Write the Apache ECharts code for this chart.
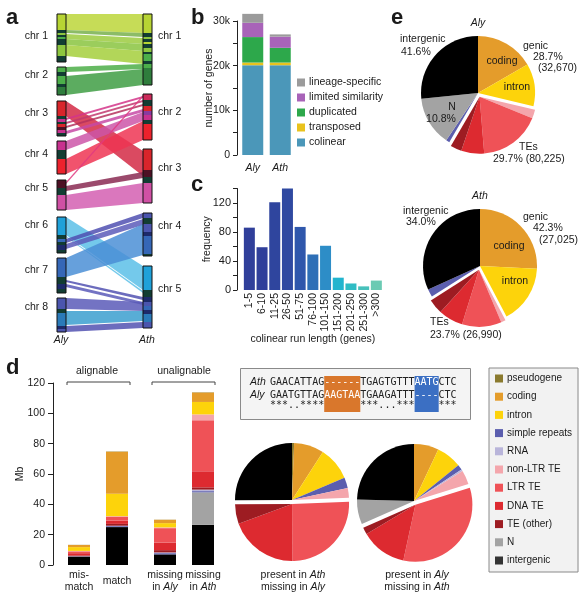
<!DOCTYPE html>
<html><head><meta charset="utf-8">
<script src="https://cdn.jsdelivr.net/npm/echarts@6/dist/echarts.min.js"></script>
<style>html,body{margin:0;padding:0;background:#fff}#c{width:584px;height:600px}</style>
</head><body><div id="c"></div>
<script>
// ---------------- Panel a : synteny ribbons (units along stacked genome)
const alyChromosomes = ['chr 1','chr 2','chr 3','chr 4','chr 5','chr 6','chr 7','chr 8'];
const alyChrRanges = [[0,48],[53,81],[87,122],[127,160],[166,196],[203,239],[244,279],[284,318]];
const alyLabelAt = [22,61,99,140,174,211,256,293];
const athChromosomes = ['chr 1','chr 2','chr 3','chr 4','chr 5'];
const athChrRanges = [[0,71],[80,126],[135,189],[199,242],[252,314]];
const athLabelAt = [22,98,154,212,275];
const bandPalette = {LG:'#b7d433',LG2:'#8dc63f',G:'#4caf4a',DG:'#2e7d3c',D:'#123d33',RD:'#d9252b',RD2:'#ec222c',
  MG:'#c8318f',CR:'#cc2a5a',MR:'#4d1024',PK:'#d050a4',PU:'#8a3aa0',CY:'#1fa1d9',BL:'#3567b7',NV:'#1d2a6a',BP:'#4b55ae',TB:'#2a7ab9'};
const alyBands = [[0,16,'LG'],[16,19,'D'],[19,21,'LG2'],[21,23,'D'],[23,25,'G'],[25,31,'D'],[31,42,'LG2'],[42,48,'D'],
  [53,58,'G'],[58,62,'D'],[62,70,'G'],[70,73,'D'],[73,81,'DG'],
  [87,102,'RD'],[102,105,'D'],[105,108,'MG'],[108,110,'D'],[110,113,'RD'],[113,116,'MR'],[116,119,'MG'],[119,122,'D'],
  [127,136,'MG'],[136,145,'D'],[145,160,'RD2'],
  [166,174,'MR'],[174,181,'D'],[181,196,'PK'],
  [203,221,'CY'],[221,225,'D'],[225,228,'BL'],[228,231,'D'],[231,236,'NV'],[236,239,'D'],
  [244,263,'BL'],[263,270,'D'],[270,275,'NV'],[275,279,'D'],
  [284,295,'BP'],[295,299,'D'],[299,312,'TB'],[312,315,'NV'],[315,318,'BP']];
const athBands = [[0,19,'LG'],[19,23,'D'],[23,25,'LG2'],[25,28,'D'],[28,30,'LG'],[30,34,'D'],[34,38,'LG2'],[38,40,'D'],[40,47,'G'],[47,50,'D'],[50,54,'G'],[54,71,'DG'],
  [80,86,'CR'],[86,92,'D'],[92,97,'RD'],[97,101,'PU'],[101,106,'MG'],[106,110,'D'],[110,126,'RD2'],
  [135,156,'RD'],[156,163,'MR'],[163,169,'D'],[169,189,'PK'],
  [199,204,'BP'],[204,210,'D'],[210,218,'BP'],[218,222,'NV'],[222,240,'BL'],[240,242,'D'],
  [252,276,'CY'],[276,283,'D'],[283,288,'NV'],[288,292,'BP'],[292,296,'BL'],[296,300,'NV'],[300,308,'TB'],[308,314,'BP']];
// [Aly start, Aly end, Ath start, Ath end]
const ribbons = [[0,16,0,19],[16,19,19,23],[20,25,24,30],[25,31,30,37],[31,42,37,50],[53,58,50,55],[62,81,55,71],
  [87,102,137,162],[104,106,82,84],[108,110,86,88],[112,114,90,92],[117,120,95,98],[127,136,98,107],[145,160,107,126],
  [168,170,81,83],[172,177,158,164],[181,196,169,189],
  [203,221,252,276],[222,223,277,279],[225,229,199,204],[230,235,205,211],[244,263,210,241],[266,268,283,286],[270,273,288,291],
  [284,295,288,297],[297,311,297,307],[312,318,308,314]];
const ribbonColors = ['#bcd63a','#78b04c','#9ccb3f','#8ac440','#a5cf3c','#4cae48','#3f9d44',
  '#d42a45','#d4358a','#c23a70','#b5335e','#c74aa6','#cc56a8','#ee3553',
  '#e03a80','#8a2a52','#d45fb2',
  '#5cc0e8','#5cc0e8','#5050b2','#5c5cba','#4b8fd6','#5252b2','#5a5ab8',
  '#5a5ab8','#3b9fcf','#5252b2'];

// ---------------- Panel b
const genomes = ['Aly','Ath'];
const geneClasses = ['colinear','transposed','duplicated','limited similarity','lineage-specific'];
const colinearGenes = [20100,20100];
const transposedGenes = [600,600];
const duplicatedGenes = [5700,3300];
const limitedSimilarityGenes = [3200,2500];
const lineageSpecificGenes = [2000,500];
const geneClassColors = ['#4b97b9','#e9c21d','#2da84b','#a863b8','#9b9b9b'];

// ---------------- Panel c
const runLengthBins = ['1-5','6-10','11-25','26-50','51-75','76-100','101-150','151-200','201-250','251-300','>300'];
const runFrequency = [86,59,121,142,87,49,61,17,9,5,13];
const runColors = ['#303f9a','#303f9a','#2f459e','#2f49a1','#2f57ac','#2e6fb7','#2d8dc7','#22b4ce','#2fbcc4','#47c1bb','#6bcab3'];

// ---------------- Panel d (Mb)
const dCategories1 = ['mis-match','match'];
const dCategories2 = ['missing in Aly','missing in Ath'];
const stackOrder = ['intergenic','N','simple repeats','RNA','TE (other)','DNA TE','LTR TE','non-LTR TE','intron','coding','pseudogene'];
const intergenicMb = [5.5,25.0,7.0,26.5];
const nMb = [0,0,0,21.4];
const simpleRepeatsMb = [0.2,0.6,0.8,0.8];
const rnaMb = [0.1,0.3,0.5,1.0];
const teOtherMb = [0.5,1.2,1.5,1.5];
const dnaTeMb = [1.5,2.2,5.0,10.6];
const ltrTeMb = [1.2,2.6,9.5,33.6];
const nonLtrTeMb = [0.3,0.3,0.5,3.9];
const intronMb = [2.5,14.8,2.8,8.2];
const codingMb = [1.4,27.6,2.2,6.2];
const pseudogeneMb = [0.1,0.2,0.1,0.2];
const legendOrder = ['pseudogene','coding','intron','simple repeats','RNA','non-LTR TE','LTR TE','DNA TE','TE (other)','N','intergenic'];

// pies in d (percent, clockwise from 12 o'clock)
const dPieClasses = ['pseudogene','coding','intron','simple repeats','RNA','non-LTR TE','LTR TE','DNA TE','TE (other)','N','intergenic'];
const presentAthMissingAly = [0.6,8.5,9.5,3.0,0,2.8,25.5,19.5,5.5,0,25.1];
const presentAlyMissingAth = [0,7.0,7.2,1.5,0.5,4.0,33.2,13.0,2.0,7.0,24.6];

// ---------------- Panel e (percent, clockwise from 12 o'clock)
const ePieClasses = ['coding','intron','non-LTR TE','LTR TE','DNA TE','TE (other)','simple repeats','N','intergenic'];
const alyComposition = [16.7,12.0,2.5,17.5,6.5,3.2,1.0,14.0,26.6];
const athComposition = [25.8,16.5,1.3,11.2,7.0,4.2,2.2,0,31.8];

const classColors = {'pseudogene':'#8a7a2e','coding':'#e49c2b','intron':'#fdd30b','simple repeats':'#5b5eae','RNA':'#b9b5da',
  'non-LTR TE':'#f4a6ac','LTR TE':'#ef5257','DNA TE':'#dd2a30','TE (other)':'#9d1c22','N':'#a3a3a3','intergenic':'#000000'};
const dValues = {'intergenic':intergenicMb,'N':nMb,'simple repeats':simpleRepeatsMb,'RNA':rnaMb,'TE (other)':teOtherMb,
  'DNA TE':dnaTeMb,'LTR TE':ltrTeMb,'non-LTR TE':nonLtrTeMb,'intron':intronMb,'coding':codingMb,'pseudogene':pseudogeneMb};

// =====================================================================
const FONT = '"Liberation Sans", Arial, Helvetica, sans-serif';
const INK = '#1a1a1a';
const chart = echarts.init(document.getElementById('c'));

function T(x,y,text,o){
  o = o||{};
  const size = o.size||10.5;
  const font = (o.italic?'italic ':'')+(o.bold?'bold ':'')+size+'px '+FONT;
  const st = {text:text, fill:o.fill||INK, font:font, textAlign:o.align||'left', textVerticalAlign:'middle', align:o.align||'left', verticalAlign:'middle'};
  if(o.rich){ st.rich = o.rich; st.lineHeight = o.lineHeight||12; }
  return {type:'text', x:x, y:y, silent:true, z:10, style:st};
}
const richIt = {n:{fontSize:10.5,fontFamily:FONT,fill:INK,lineHeight:12}, i:{fontSize:10.5,fontFamily:FONT,fontStyle:'italic',fill:INK,lineHeight:12}};

// ---- panel a series
const AX0 = 0, AX1 = 9, BX0 = 86, BX1 = 95;
function ribbonItem(params, api){
  const p0 = api.coord([AX1, api.value(0)]), p1 = api.coord([AX1, api.value(1)]);
  const q0 = api.coord([BX0, api.value(2)]), q1 = api.coord([BX0, api.value(3)]);
  return {type:'polygon', shape:{points:[p0,q0,q1,p1]}, style:{fill:ribbonColors[params.dataIndex], opacity:0.85}};
}
function bandItem(side){
  return function(params, api){
    const b = (side===0?alyBands:athBands)[params.dataIndex];
    const x0 = side===0?AX0:BX0, x1 = side===0?AX1:BX1;
    const a = api.coord([x0, api.value(0)]), c = api.coord([x1, api.value(1)]);
    return {type:'rect', shape:{x:a[0], y:a[1], width:c[0]-a[0], height:c[1]-a[1]}, style:{fill:bandPalette[b[2]]}};
  };
}
function chrItem(side){
  return function(params, api){
    const names = side===0?alyChromosomes:athChromosomes;
    const labs = side===0?alyLabelAt:athLabelAt;
    const x0 = side===0?AX0:BX0, x1 = side===0?AX1:BX1;
    const a = api.coord([x0, api.value(0)]), c = api.coord([x1, api.value(1)]);
    const l = api.coord([x0, labs[params.dataIndex]]);
    const lx = side===0 ? a[0]-9 : c[0]+6;
    return {type:'group', children:[
      {type:'rect', shape:{x:a[0], y:a[1], width:c[0]-a[0], height:c[1]-a[1]}, style:{fill:null, stroke:'#111', lineWidth:1}},
      {type:'text', x:lx, y:l[1], style:{text:names[params.dataIndex], font:'10.5px '+FONT, fill:INK, align:side===0?'right':'left', verticalAlign:'middle', textAlign:side===0?'right':'left', textVerticalAlign:'middle'}}
    ]};
  };
}

const series = [];
series.push({type:'custom', name:'ribbons', xAxisIndex:0, yAxisIndex:0, renderItem:ribbonItem, data:ribbons, silent:true, z:1});
series.push({type:'custom', name:'alyBands', xAxisIndex:0, yAxisIndex:0, renderItem:bandItem(0), data:alyBands.map(b=>[b[0],b[1]]), silent:true, z:2});
series.push({type:'custom', name:'athBands', xAxisIndex:0, yAxisIndex:0, renderItem:bandItem(1), data:athBands.map(b=>[b[0],b[1]]), silent:true, z:2});
series.push({type:'custom', name:'alyChr', xAxisIndex:0, yAxisIndex:0, renderItem:chrItem(0), data:alyChrRanges, silent:true, z:3});
series.push({type:'custom', name:'athChr', xAxisIndex:0, yAxisIndex:0, renderItem:chrItem(1), data:athChrRanges, silent:true, z:3});

// ---- panel d bars (first so legend takes their colours)
stackOrder.forEach(cls=>{
  const v = dValues[cls];
  series.push({type:'bar', name:cls, stack:'d1', xAxisIndex:3, yAxisIndex:3, data:v.slice(0,2), barWidth:22, itemStyle:{color:classColors[cls]}, silent:true});
  series.push({type:'bar', name:cls, stack:'d2', xAxisIndex:4, yAxisIndex:4, data:v.slice(2,4), barWidth:22, itemStyle:{color:classColors[cls]}, silent:true});
});

// ---- panel b bars
const geneArrays = [colinearGenes, transposedGenes, duplicatedGenes, limitedSimilarityGenes, lineageSpecificGenes];
geneClasses.forEach((cls,i)=>{
  series.push({type:'bar', name:cls, stack:'genes', xAxisIndex:1, yAxisIndex:1, data:geneArrays[i], barWidth:21, clip:false, itemStyle:{color:geneClassColors[i]}, silent:true});
});

// ---- panel c bars
series.push({type:'bar', name:'runs', xAxisIndex:2, yAxisIndex:2, barWidth:11, silent:true,
  data:runFrequency.map((v,i)=>({value:v, itemStyle:{color:runColors[i]}}))});

// ---- pies
function pieSeries(names, values, center, r, exploded, off){
  const total = values.reduce((a,b)=>a+b,0);
  let before=0, exp=0, started=false;
  names.forEach((n,i)=>{ if(exploded.indexOf(n)>=0){ started=true; exp+=values[i]; } else if(!started){ before+=values[i]; } });
  const th = (before+exp/2)/total*2*Math.PI;
  const c2 = [center[0]+off*Math.sin(th), center[1]-off*Math.cos(th)];
  const mk = show => names.map((n,i)=>({name:'s_'+n, value:values[i], itemStyle:{color: show(n)?classColors[n]:'rgba(0,0,0,0)'}}));
  const base = {type:'pie', radius:r, startAngle:90, clockwise:true, label:{show:false}, labelLine:{show:false}, silent:true,
    itemStyle:{borderWidth:0}, emphasis:{disabled:true}, legendHoverLink:false, minAngle:0, stillShowZeroSum:true};
  return [Object.assign({}, base, {center:center, data:mk(n=>exploded.indexOf(n)<0)}),
          Object.assign({}, base, {center:c2, data:mk(n=>exploded.indexOf(n)>=0)})];
}
const eExpl = ['non-LTR TE','LTR TE','DNA TE','TE (other)'];
const dExpl = ['LTR TE','DNA TE','TE (other)'];
series.push(...pieSeries(ePieClasses, alyComposition, [478,93], 57, eExpl, 4));
series.push(...pieSeries(ePieClasses, athComposition, [480,266], 57, eExpl, 4));
series.push(...pieSeries(dPieClasses, presentAthMissingAly, [292,500], 57, dExpl, 4));
series.push(...pieSeries(dPieClasses, presentAlyMissingAth, [414,501], 57, dExpl, 4));

const axLine = {show:true, lineStyle:{color:'#222', width:1}};
const axTick = {show:true, length:4, lineStyle:{color:'#222', width:1}};
const noSplit = {show:false};

const option = {
  animation:false,
  textStyle:{fontFamily:FONT},
  grid:[
    {left:57, top:14, width:95, height:318},
    {left:239, top:21, width:55, height:134},
    {left:243, top:188.5, width:139.7, height:101.5},
    {left:60, top:383, width:76, height:182},
    {left:146, top:383, width:76, height:182}
  ],
  xAxis:[
    {gridIndex:0, type:'value', min:0, max:95, show:false},
    {gridIndex:1, type:'category', data:genomes, axisLine:{show:false}, axisTick:{show:false},
      axisLabel:{color:INK, fontSize:10.5, fontStyle:'italic', margin:8}},
    {gridIndex:2, type:'category', data:runLengthBins, axisLine:{show:false}, axisTick:{show:false},
      axisLabel:{color:INK, fontSize:10.5, rotate:90, margin:3, interval:0},
      name:'colinear run length (genes)', nameLocation:'middle', nameGap:44, nameMoveOverlap:false, nameTextStyle:{color:INK, fontSize:10.5}},
    {gridIndex:3, type:'category', data:dCategories1, axisLine:{show:false}, axisTick:{show:false},
      axisLabel:{color:INK, fontSize:10.5, margin:4, lineHeight:12, interval:0,
        formatter:v=> v==='mis-match' ? 'mis-\nmatch' : '{m|match}', rich:{m:{fontSize:10.5, fontFamily:FONT, fill:INK, lineHeight:24}}}},
    {gridIndex:4, type:'category', data:dCategories2, axisLine:{show:false}, axisTick:{show:false},
      axisLabel:{color:INK, fontSize:10.5, margin:4, lineHeight:12, interval:0,
        formatter:v=> 'missing\nin {i|'+v.split(' ').pop()+'}', rich:{i:{fontSize:10.5, fontFamily:FONT, fontStyle:'italic', color:INK, lineHeight:12}}}}
  ],
  yAxis:[
    {gridIndex:0, type:'value', min:0, max:318, inverse:true, show:false},
    {gridIndex:1, type:'value', min:0, max:30000, interval:5000, offset:2, axisLine:axLine, axisTick:axTick, splitLine:noSplit,
      axisLabel:{color:INK, fontSize:10.5, margin:7, formatter:v=> v%10000===0 ? (v===0?'0':(v/1000)+'k') : ''},
      name:'number of genes', nameLocation:'middle', nameGap:22, nameMoveOverlap:false, nameTextStyle:{color:INK, fontSize:10.5}},
    {gridIndex:2, type:'value', min:0, max:140, interval:20, offset:6, axisLine:axLine, axisTick:axTick, splitLine:noSplit,
      axisLabel:{color:INK, fontSize:11, margin:6, formatter:v=> v%40===0 ? String(v) : ''},
      name:'frequency', nameLocation:'middle', nameGap:24, nameMoveOverlap:false, nameTextStyle:{color:INK, fontSize:10.5}},
    {gridIndex:3, type:'value', min:0, max:120, interval:20, offset:7, axisLine:axLine, axisTick:{show:true, length:5, lineStyle:{color:'#222'}}, splitLine:noSplit,
      axisLabel:{color:INK, fontSize:10.5, margin:8},
      name:'Mb', nameLocation:'middle', nameGap:27, nameMoveOverlap:false, nameTextStyle:{color:INK, fontSize:10.5}},
    {gridIndex:4, type:'value', min:0, max:120, interval:20, show:false}
  ],
  legend:[
    {orient:'vertical', left:297, top:77, padding:0, itemWidth:8, itemHeight:8, itemGap:4, icon:'rect', selectedMode:false,
      textStyle:{color:INK, fontSize:10.5, lineHeight:11, padding:[0,0,0,-1]},
      data:geneClasses.slice().reverse().map(n=>({name:n, itemStyle:{color:geneClassColors[geneClasses.indexOf(n)]}}))},
    {orient:'vertical', left:489, top:368, padding:[5,6,6,6], itemWidth:8, itemHeight:8, itemGap:7.2, icon:'rect', selectedMode:false,
      backgroundColor:'#f2f2f2', borderColor:'#8a8a8a', borderWidth:1,
      textStyle:{color:INK, fontSize:10, lineHeight:11, padding:[0,0,0,-1]},
      data:legendOrder.map(n=>({name:n, itemStyle:{color: n==='intergenic' ? '#333333' : classColors[n]}}))}
  ],
  series:series,
  graphic:{elements:[
    T(6,18,'a',{size:22,bold:true}), T(191,18,'b',{size:22,bold:true}), T(191,185,'c',{size:22,bold:true}),
    T(6,368,'d',{size:22,bold:true}), T(391,18,'e',{size:22,bold:true}),
    T(61,340,'Aly',{italic:true,align:'center'}), T(147,340,'Ath',{italic:true,align:'center'}),
    // e Aly
    T(478,23,'Aly',{italic:true,align:'center'}),
    T(400,39,'intergenic'), T(401,52,'41.6%'),
    T(523,46,'genic'), T(533,57,'28.7%'), T(538,68,'(32,670)'),
    T(502,61,'coding',{align:'center'}), T(517,87,'intron',{align:'center'}),
    T(452,107,'N',{align:'center'}), T(441,119,'10.8%',{align:'center'}),
    T(519,147,'TEs'), T(493,159,'29.7% (80,225)'),
    // e Ath
    T(480,196,'Ath',{italic:true,align:'center'}),
    T(403,211,'intergenic'), T(406,222,'34.0%'),
    T(523,217,'genic'), T(533,228,'42.3%'), T(539,240,'(27,025)'),
    T(509,246,'coding',{align:'center'}), T(515,281,'intron',{align:'center'}),
    T(430,322,'TEs'), T(430,335,'23.7% (26,990)'),
    // d brackets
    T(97,371,'alignable',{align:'center'}), T(184,371,'unalignable',{align:'center'}),
    {type:'polyline', silent:true, shape:{points:[[67,385],[67,382],[130,382],[130,385]]}, style:{stroke:'#444', fill:null, lineWidth:1}},
    {type:'polyline', silent:true, shape:{points:[[152,385],[152,382],[215,382],[215,385]]}, style:{stroke:'#444', fill:null, lineWidth:1}},
    // alignment box
    {type:'rect', silent:true, z:1, shape:{x:240.5, y:368.5, width:230, height:51}, style:{fill:'#f4f4f4', stroke:'#8a8a8a', lineWidth:1}},
    {type:'rect', silent:true, z:2, shape:{x:324.2, y:376, width:36.1, height:36}, style:{fill:'#d9772c'}},
    {type:'rect', silent:true, z:2, shape:{x:414.6, y:376, width:24.1, height:36}, style:{fill:'#3b6fc3'}},
    T(250,382,'Ath',{italic:true}), T(250,395,'Aly',{italic:true}),
    T(270,382,'{n|GAACATTAG}{w|------}{n|TGAGTGTTT}{w|AATG}{n|CTC}',{rich:{n:{fontSize:10,fontFamily:'"DejaVu Sans Mono", monospace',fill:'#222'},w:{fontSize:10,fontFamily:'"DejaVu Sans Mono", monospace',fill:'#ffffff'}}}),
    T(270,395,'{n|GAATGTTAG}{w|AAGTAA}{n|TGAAGATTT}{w|----}{n|CTC}',{rich:{n:{fontSize:10,fontFamily:'"DejaVu Sans Mono", monospace',fill:'#222'},w:{fontSize:10,fontFamily:'"DejaVu Sans Mono", monospace',fill:'#ffffff'}}}),
    T(270,405,'{n|***..****      ***...***    ***}',{rich:{n:{fontSize:10,fontFamily:'"DejaVu Sans Mono", monospace',fill:'#222'}}}),
    // pie captions
    T(293,581,'{n|present in }{i|Ath}\n{n|missing in }{i|Aly}',{align:'center',rich:richIt}),
    T(417,581,'{n|present in }{i|Aly}\n{n|missing in }{i|Ath}',{align:'center',rich:richIt})
  ]}
};
chart.setOption(option);
</script>
</body></html>
